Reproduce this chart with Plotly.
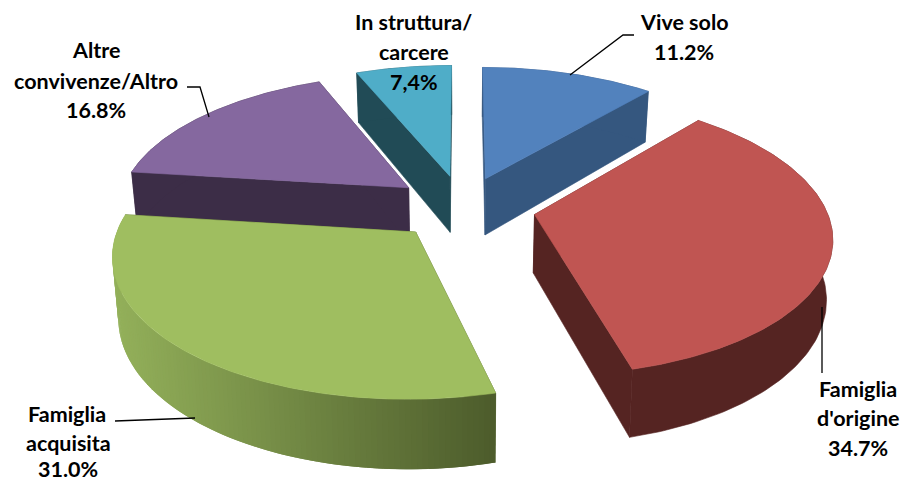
import numpy as np
import plotly.graph_objects as go

categories = ["Vive solo", "Famiglia d'origine", "Famiglia acquisita", "Altre convivenze/Altro", "In struttura/carcere"]
# slice weights: the teal slice's drawn size is 6.2 (remainder to 100) although its label says 7,4%
values = [11.2, 34.7, 31.0, 16.8, 6.2]

top_colors = ["#5282bd", "#c05552", "#9fbe60", "#85689f", "#4fadc8"]
wall_colors = ["#35577f", "#552422", None, "#3c2d47", "#214b56"]
explode = [0.23, 0.25, 0.24, 0.24, 0.24]
draw_order = [4, 0, 3, 1, 2]

CX, CY, R, RY, K, D, C = 463.0, 207.0, 291.0, 135.0, 0.145, 58.0, 0.017


def proj(X, Y, drop=0.0):
    s = 1.0 / (1.0 - K * np.asarray(Y))
    return CX + R * np.asarray(X) * s * (1 - C * drop), CY + RY * np.asarray(Y) * s + D * s * drop


def lerp_hex(a, b, t):
    a = np.array([int(a[i:i + 2], 16) for i in (1, 3, 5)])
    b = np.array([int(b[i:i + 2], 16) for i in (1, 3, 5)])
    c = (a + (b - a) * t).round().astype(int)
    return "rgb(%d,%d,%d)" % tuple(c)


fig = go.Figure()


def poly(x, y, color, lw=0.6):
    fig.add_trace(go.Scatter(x=list(x) + [x[0]], y=list(y) + [y[0]], mode="lines", fill="toself",
                             fillcolor=color, line=dict(color=color, width=lw),
                             hoverinfo="skip", showlegend=False))


frac = np.array(values) / sum(values) * 2 * np.pi
ends = np.cumsum(frac)
starts = ends - frac

for i in draw_order:
    a0, a1 = starts[i], ends[i]
    mid = (a0 + a1) / 2
    ox, oy = explode[i] * np.sin(mid), -explode[i] * np.cos(mid)
    th = np.linspace(a0, a1, 120)
    rx, ry = ox + np.sin(th), oy - np.cos(th)

    # radial walls
    wall = wall_colors[i] or "#4f6029"
    for j in (0, -1):
        Xs = np.array([ox, rx[j]])
        Ys = np.array([oy, ry[j]])
        px0, py0 = proj(Xs, Ys, 0)
        px1, py1 = proj(Xs, Ys, 1)
        poly([px0[0], px0[1], px1[1], px1[0]], [py0[0], py0[1], py1[1], py1[0]], wall)

    # outer wall: one polygon, or overlapping strips for the shaded green one
    tx, ty = proj(rx, ry, 0)
    bx, by = proj(rx, ry, 1)
    if wall_colors[i] is None:
        for n in np.arange(len(th) - 1, 0, -1):
            m = max(n - 2, 0)
            t = np.clip((tx[n] - 113) / (495 - 113), 0, 1)
            col = lerp_hex("#93b05a", "#4c5b2b", t)
            seg = np.arange(m, n + 1)
            poly(np.concatenate([tx[seg], bx[seg][::-1]]), np.concatenate([ty[seg], by[seg][::-1]]), col, 0)
    else:
        poly(np.concatenate([tx, bx[::-1]]), np.concatenate([ty, by[::-1]]), wall_colors[i])

    # top face
    ax, ay = proj(np.array([ox]), np.array([oy]), 0)
    poly(np.concatenate([ax, tx]), np.concatenate([ay, ty]), top_colors[i])

# leader lines
leaders = [([570, 623, 634], [75, 35, 35]),
           ([209, 200, 187], [117, 87, 87]),
           ([195, 115], [418, 421]),
           ([822, 822], [307, 373])]
for lx, ly in leaders:
    fig.add_trace(go.Scatter(x=lx, y=ly, mode="lines", line=dict(color="black", width=1.3),
                             hoverinfo="skip", showlegend=False))

labels = [("In struttura/", 413, 22), ("carcere", 414, 52), ("7,4%", 414, 82),
          ("Vive solo", 684, 22), ("11.2%", 684, 52),
          ("Altre", 96, 50), ("convivenze/Altro", 96, 81), ("16.8%", 96, 110),
          ("Famiglia", 67, 414), ("acquisita", 68, 443), ("31.0%", 68, 469),
          ("Famiglia", 858, 389), ("d'origine", 858, 418), ("34.7%", 858, 448)]
for text, x, y in labels:
    fig.add_annotation(x=x, y=y, text=text, showarrow=False, xanchor="center", yanchor="middle",
                       font=dict(family="Lato", size=21.5, color="black", weight="bold"))

fig.update_layout(width=901, height=482, margin=dict(l=0, r=0, t=0, b=0),
                  paper_bgcolor="white", plot_bgcolor="white",
                  xaxis=dict(range=[0, 901], visible=False, fixedrange=True),
                  yaxis=dict(range=[482, 0], visible=False, fixedrange=True),
                  showlegend=False)
fig.write_html("out.html", config=dict(displayModeBar=False),
               post_script="document.body.style.margin='0';document.body.style.overflow='hidden';")
